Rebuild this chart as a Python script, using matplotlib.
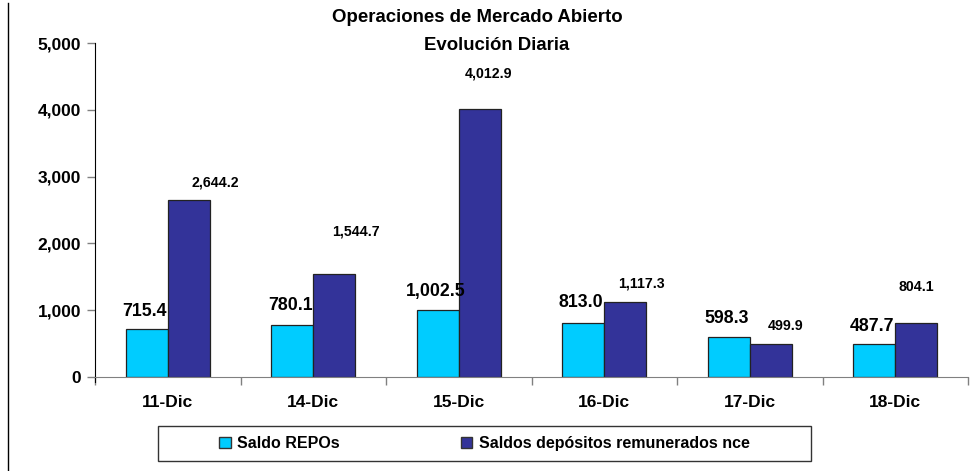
import matplotlib
matplotlib.use("Agg")
import matplotlib.pyplot as plt
from matplotlib.patches import Rectangle
from matplotlib.lines import Line2D
import numpy as np

plt.rcParams['font.family'] = ['Liberation Sans', 'DejaVu Sans']
plt.rcParams['font.weight'] = 'bold'

categories = ["11-Dic", "14-Dic", "15-Dic", "16-Dic", "17-Dic", "18-Dic"]
repos = [715.4, 780.1, 1002.5, 813.0, 598.3, 487.7]
depositos = [2644.2, 1544.7, 4012.9, 1117.3, 499.9, 804.1]
series_names = ["Saldo REPOs", "Saldos depósitos remunerados nce"]
title_lines = ["Operaciones de Mercado Abierto", "Evolución Diaria"]

# label offsets in pixels (dx, dy) relative to bar top centre
repo_off = [(-2, 18), (-2, 19), (-2, 19), (-2, 20), (-2, 19), (-2, 18)]
dep_off = [(27, 18), (22, 42), (9, 35), (16, 19), (15, 18), (0, 36)]

c_repo = "#00CCFF"
c_dep = "#333399"

W, H = 972, 471
fig = plt.figure(figsize=(W / 100, H / 100), dpi=100)
ax = fig.add_axes([95 / W, (H - 377) / H, (968 - 95) / W, (377 - 43) / H])

x = np.arange(len(categories))
bw = 0.289
b1 = ax.bar(x - bw / 2, repos, bw, color=c_repo, edgecolor="#222222", linewidth=0.9, zorder=2)
b2 = ax.bar(x + bw / 2, depositos, bw, color=c_dep, edgecolor="#222222", linewidth=0.9, zorder=2)

for rect, v, (dx, dy) in zip(b1, repos, repo_off):
    ax.annotate(f"{v:,.1f}", (rect.get_x() + rect.get_width() / 2, v),
                xytext=(dx, dy), textcoords="offset pixels",
                ha="center", va="center", fontsize=12.8, fontweight="bold")
for rect, v, (dx, dy) in zip(b2, depositos, dep_off):
    ax.annotate(f"{v:,.1f}", (rect.get_x() + rect.get_width() / 2, v),
                xytext=(dx, dy), textcoords="offset pixels",
                ha="center", va="center", fontsize=10.2, fontweight="bold")

ax.set_xlim(-0.5, len(categories) - 0.5)
ax.set_ylim(0, 5000)
ax.set_yticks(np.arange(0, 5001, 1000))
ax.set_yticklabels([f"{v:,.0f}" for v in np.arange(0, 5001, 1000)], fontsize=12.5, fontweight="bold")
ax.set_xticks(np.arange(-0.5, len(categories), 1.0))
ax.set_xticklabels([])
ax.set_xticks(x, minor=True)
ax.set_xticklabels(categories, minor=True, fontsize=12.5, fontweight="bold")
ax.tick_params(axis="x", which="minor", length=0, pad=13)
ax.tick_params(axis="x", which="major", length=6, width=1, color="#808080", direction="out")
ax.tick_params(axis="y", length=6, width=1, color="#808080", direction="out", pad=4)

for s in ["top", "right"]:
    ax.spines[s].set_visible(False)
ax.spines["left"].set_color("black")
ax.spines["bottom"].set_color("#808080")
ax.spines["left"].set_bounds(-80, 5000)

fig.text(477 / W, 1 - 18 / H, title_lines[0], ha="center", va="center", fontsize=13.4, fontweight="bold")
fig.text(497 / W, 1 - 45 / H, title_lines[1], ha="center", va="center", fontsize=13.4, fontweight="bold")

# legend box
fig.patches.append(Rectangle((158 / W, (H - 461) / H), (811 - 158) / W, (461 - 426) / H,
                             transform=fig.transFigure, fill=False, edgecolor="#333333", linewidth=1))
handles = [Rectangle((0, 0), 1, 1, facecolor=c_repo, edgecolor="#333333", linewidth=1),
           Rectangle((0, 0), 1, 1, facecolor=c_dep, edgecolor="#333333", linewidth=1)]
fig.legend(handles, series_names, loc="center", bbox_to_anchor=(484.5 / W, (H - 443.5) / H),
           ncol=2, frameon=False, handlelength=0.7, handleheight=0.7,
           handletextpad=0.4, columnspacing=7.6, prop={"weight": "bold", "size": 11.5})

fig.add_artist(Line2D([7.5 / W, 7.5 / W], [0, 1 - 3 / H], transform=fig.transFigure, color="black", linewidth=1))

fig.savefig("out.png", dpi=100)
